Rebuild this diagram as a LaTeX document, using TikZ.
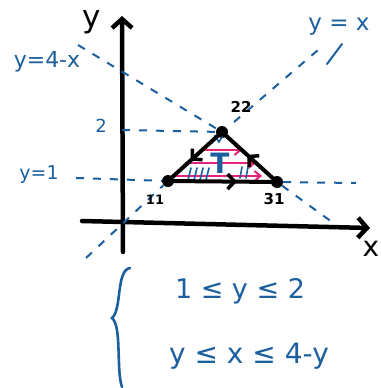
\documentclass[tikz,border=0pt]{standalone}
\usepackage{fontspec}
\setmainfont{DejaVu Sans}
\usepackage{tikz}
\usetikzlibrary{arrows.meta, decorations.markings}
\definecolor{cInk}{HTML}{1B5F9E}
\definecolor{cPink}{HTML}{E8237A}
\tikzset{
  axis/.style={line width=4.5pt, black, line cap=round,
    -{Straight Barb[length=9pt, width=20pt, line width=4.5pt]}},
  guide/.style={cInk, line width=2pt, dash pattern=on 8pt off 9pt},
  edge/.style={line width=4pt, black, line cap=round},
  midarrow/.style={postaction={decorate}, decoration={markings,
    mark=at position #1 with {\arrow{Straight Barb[length=7pt, width=15pt, line width=3.5pt]}}}},
  vertex/.style={circle, fill=black, inner sep=0pt, minimum size=12pt},
  sweep/.style={cPink, line width=2.2pt, -{Straight Barb[length=6pt, width=10pt, line width=2pt]}},
  hatch/.style={cInk, line width=1.6pt, line cap=round},
  label/.style={cInk, inner sep=0pt},
  blackl/.style={black, inner sep=0pt, font=\bfseries},
}

\begin{document}
\begin{tikzpicture}[x=1pt, y=-1pt]
  \useasboundingbox (0,0) rectangle (380,388);

  % axes
  \coordinate (ybot) at (123,252);
  \coordinate (ytop) at (122,16);
  \coordinate (xlft) at (82,221);
  \coordinate (xrgt) at (370,228);
  \draw[axis] (ybot) -- (ytop);
  \draw[axis] (xlft) -- (xrgt);
  \node[blackl, font=\fontsize{31}{33}\selectfont] (ylab) at (92,22) {y};
  \node[blackl, font=\fontsize{28}{30}\selectfont] (xlab) at (371,249) {x};

  % triangle corners
  \node[vertex] (p11) at (168,181) {};
  \node[vertex] (p31) at (277,182) {};
  \node[vertex] (p22) at (222,132) {};

  % guide lines
  \coordinate (dxa) at (86,258);
  \coordinate (dxb) at (234,122);
  \coordinate (dxc) at (318,50);
  \coordinate (dfa) at (78,45);
  \coordinate (dfb) at (332,222);
  \coordinate (d2a) at (122,130);
  \coordinate (d1a) at (76,178);
  \coordinate (d1b) at (356,183);
  \draw[guide] (dxa) -- (p11);
  \draw[guide] (dxb) -- (dxc);
  \draw[cInk, line width=2pt, line cap=round] (327,64) -- (342,44);
  \draw[guide] (dfa) -- (p22);
  \draw[guide] (p31) -- (dfb);
  \draw[guide] (d2a) -- (p22);
  \draw[guide] (d1a) -- (p11);
  \draw[guide] (p31) -- (d1b);

  \node[label, font=\fontsize{23}{25}\selectfont] (lyx) at (339,27) {y = x};
  \node[label, font=\fontsize{22}{24}\selectfont] (lyf) at (47,62) {y=4-x};
  \node[label, font=\fontsize{18}{20}\selectfont] (ltwo) at (101,126) {2};
  \node[label, font=\fontsize{19}{21}\selectfont] (lone) at (39,175) {y=1};

  % pink sweeps and hatching
  \foreach \yy/\xa/\xb in {150/203/242, 163/185/256, 176/175/262}
    \draw[sweep] (\xa,\yy) -- (\xb,\yy);
  \foreach \xx in {188,194,200,206}
    \draw[hatch] (\xx,180) -- (\xx+3,168);
  \foreach \xx in {240,246}
    \draw[hatch] (\xx,178) -- (\xx+2,167);
  \draw[hatch] (212,143) -- (215,136) -- (219,142) -- (222,137);

  % triangle edges
  \draw[edge, midarrow=0.65] (p11) -- (p31);
  \draw[edge, midarrow=0.55] (p31) -- (p22);
  \draw[edge, midarrow=0.6] (p22) -- (p11);

  \node[label, font=\bfseries\fontsize{28}{30}\selectfont] (tlab) at (220,163) {T};
  \node[blackl, font=\bfseries\fontsize{13}{15}\selectfont] (l11) at (155,200) {11};
  \node[blackl, font=\bfseries\fontsize{15}{17}\selectfont] (l31) at (274,199) {31};
  \node[blackl, font=\bfseries\fontsize{15}{17}\selectfont] (l22) at (241,107) {22};

  % bounds
  \draw[cInk, line width=2.6pt, line cap=round]
    (130,268) .. controls (116,270) and (122,310) .. (112,318)
    .. controls (122,326) and (116,370) .. (122,387);
  \node[label, font=\fontsize{27}{29}\selectfont] (rowy) at (240,291) {1 ≤ y ≤ 2};
  \node[label, font=\fontsize{28}{30}\selectfont] (rowx) at (249,356) {y ≤ x ≤ 4-y};
\end{tikzpicture}
\end{document}
